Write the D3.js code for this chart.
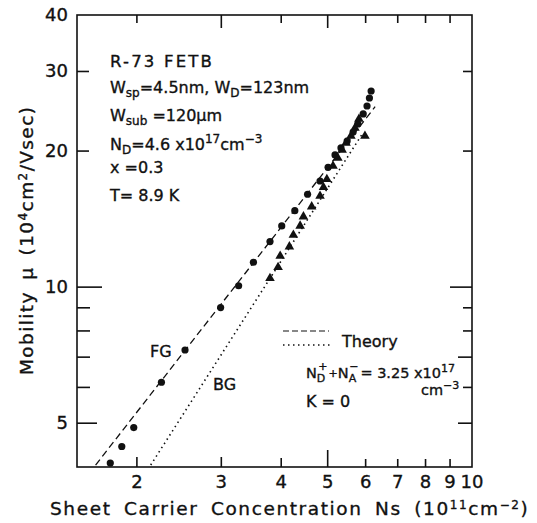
<!DOCTYPE html>
<html>
<head>
<meta charset="utf-8">
<script src="https://cdn.jsdelivr.net/npm/d3@7"></script>
<style>
  body { margin: 0; background: #fff; }
  svg { display: block; }
  text { font-family: "DejaVu Sans", sans-serif; fill: #111; stroke: #111; stroke-width: 0.35px; }
</style>
</head>
<body>
<svg id="chart" width="537" height="523"></svg>
<script>
// FG data (circles) - Ns (1e11 cm^-2), mobility (1e4 cm2/Vs)
var fgNs  = [1.76, 1.86, 1.97, 2.25, 2.52, 2.99, 3.26, 3.50, 3.79, 4.01, 4.27, 4.54, 4.82, 5.01, 5.18, 5.33, 5.49, 5.65, 5.78, 5.93, 6.04, 6.11, 6.16];
var fgMu  = [4.08, 4.44, 4.89, 6.16, 7.26, 9.01, 10.07, 11.35, 12.61, 13.66, 14.76, 16.05, 17.17, 18.41, 19.61, 20.32, 21.05, 22.04, 22.96, 24.16, 25.16, 26.21, 27.16];
// BG data (triangles)
var bgNs  = [3.79, 3.94, 3.98, 4.16, 4.24, 4.38, 4.45, 4.63, 4.82, 4.90, 4.98, 5.13, 5.25, 5.36, 5.46, 5.59, 5.70, 5.81, 5.98];
var bgMu  = [10.46, 11.07, 11.72, 12.29, 13.04, 13.66, 14.32, 15.07, 15.91, 16.63, 17.32, 18.53, 19.31, 20.11, 20.84, 21.60, 22.50, 23.55, 21.60];
// theory lines
var theoryFgNs = [1.64, 6.28];
var theoryFgMu = [4.04, 25.07];
var theoryBgNs = [2.137, 5.9];
var theoryBgMu = [4.04, 21.8];

var xTicks = [2, 3, 4, 5, 6, 7, 8, 9, 10];
var yTicks = [5, 10, 20, 30, 40];
var yMinor = [6, 7, 8, 9];

var svg = d3.select("#chart");
var box = {left: 77, right: 472, top: 15, bottom: 467};

var x = d3.scaleLog().domain([1.5, 10]).range([box.left, box.right]);
var y = d3.scaleLog().domain([4, 40]).range([box.bottom, box.top]);

svg.append("clipPath").attr("id", "clip")
  .append("rect").attr("x", box.left).attr("y", box.top)
  .attr("width", box.right - box.left).attr("height", box.bottom - box.top);

// frame
svg.append("rect")
  .attr("x", box.left).attr("y", box.top)
  .attr("width", box.right - box.left).attr("height", box.bottom - box.top)
  .attr("fill", "none").attr("stroke", "#111").attr("stroke-width", 1.6);

// tick lengths (inward)
var botLen = {2: 10, 3: 10, 4: 9, 5: 17, 6: 8, 7: 8, 8: 8, 9: 8};
var topLen = {2: 8, 3: 13, 4: 8, 5: 13, 6: 8, 7: 8, 8: 8, 9: 8};
var leftLen = {5: 20, 6: 13, 7: 13, 8: 13, 9: 13, 10: 25, 20: 12, 30: 12};
var rightLen = {5: 14, 6: 9, 7: 14, 8: 9, 9: 9, 10: 22, 20: 9, 30: 9};

var ticks = svg.append("g").attr("stroke", "#111").attr("stroke-width", 1.6);
xTicks.filter(function(d) { return d < 10; }).forEach(function(d) {
  ticks.append("line").attr("x1", x(d)).attr("x2", x(d)).attr("y1", box.bottom).attr("y2", box.bottom - botLen[d]);
  ticks.append("line").attr("x1", x(d)).attr("x2", x(d)).attr("y1", box.top).attr("y2", box.top + topLen[d]);
});
yTicks.concat(yMinor).filter(function(d) { return d < 40; }).forEach(function(d) {
  ticks.append("line").attr("y1", y(d)).attr("y2", y(d)).attr("x1", box.left).attr("x2", box.left + leftLen[d]);
  ticks.append("line").attr("y1", y(d)).attr("y2", y(d)).attr("x1", box.right).attr("x2", box.right - rightLen[d]);
});

// tick labels
svg.append("g").selectAll("text").data(xTicks).enter().append("text")
  .attr("x", function(d) { return x(d); })
  .attr("y", 488)
  .attr("text-anchor", "middle")
  .style("font-size", "18px")
  .text(function(d) { return d; });

svg.append("g").selectAll("text").data(yTicks).enter().append("text")
  .attr("x", 68)
  .attr("y", function(d) { return y(d) + 6; })
  .attr("text-anchor", "end")
  .style("font-size", "18px")
  .text(function(d) { return d; });

// axis titles
var xt = svg.append("text").attr("x", 50).attr("y", 515).style("font-size", "18.5px")
  .attr("letter-spacing", "1.6px").attr("word-spacing", "5px");
xt.append("tspan").text("Sheet Carrier Concentration Ns (10");
xt.append("tspan").attr("dy", -6).style("font-size", "12px").text("11");
xt.append("tspan").attr("dy", 6).text("cm");
xt.append("tspan").attr("dy", -6).style("font-size", "12px").text("−2");
xt.append("tspan").attr("dy", 6).text(")");

var yt = svg.append("text").attr("transform", "translate(33,375) rotate(-90)").style("font-size", "18.5px")
  .attr("letter-spacing", "1.4px").attr("word-spacing", "4px");
yt.append("tspan").text("Mobility  μ  (10");
yt.append("tspan").attr("dy", -6).style("font-size", "12px").text("4");
yt.append("tspan").attr("dy", 6).text("cm");
yt.append("tspan").attr("dy", -6).style("font-size", "12px").text("2");
yt.append("tspan").attr("dy", 6).text("/Vsec)");

// theory lines
var line = d3.line().x(function(d) { return x(d[0]); }).y(function(d) { return y(d[1]); });
svg.append("path")
  .datum(d3.zip(theoryFgNs, theoryFgMu))
  .attr("d", line).attr("fill", "none").attr("stroke", "#111")
  .attr("stroke-width", 1.3).attr("stroke-dasharray", "7,4")
  .attr("clip-path", "url(#clip)");
svg.append("path")
  .datum(d3.zip(theoryBgNs, theoryBgMu))
  .attr("d", line).attr("fill", "none").attr("stroke", "#111")
  .attr("stroke-width", 1.6).attr("stroke-dasharray", "1.5,3.5")
  .attr("clip-path", "url(#clip)");

// data points
svg.append("g").selectAll("circle").data(d3.zip(fgNs, fgMu)).enter().append("circle")
  .attr("cx", function(d) { return x(d[0]); })
  .attr("cy", function(d) { return y(d[1]); })
  .attr("r", 3.6).attr("fill", "#111");

var tri = d3.symbol().type(d3.symbolTriangle).size(40);
svg.append("g").selectAll("path").data(d3.zip(bgNs, bgMu)).enter().append("path")
  .attr("d", tri)
  .attr("transform", function(d) { return "translate(" + x(d[0]) + "," + y(d[1]) + ")"; })
  .attr("fill", "#111");

// annotations: parts are [text, baseline shift, dx]
function addText(xp, yp, parts, size, spacing, subSize) {
  var t = svg.append("text").attr("x", xp).attr("y", yp).style("font-size", (size || 16) + "px");
  if (spacing) t.attr("letter-spacing", spacing + "px");
  var shift = 0;
  parts.forEach(function(p) {
    var s = p[1] || 0;
    var ts = t.append("tspan").attr("dy", s - shift).style("font-size", s ? (subSize || 12) + "px" : null).text(p[0]);
    if (p[2]) ts.attr("dx", p[2]);
    shift = s;
  });
  return t;
}
addText(110, 67, [["R-73 FETB"]], 16.5, 2.2);
addText(110, 93, [["W"], ["sp", 4], ["=4.5nm, W"], ["D", 4], ["=123nm"]]);
addText(110, 121, [["W"], ["sub", 4], [" =120μm"]]);
addText(110, 150, [["N"], ["D", 4], ["=4.6 x10"], ["17", -7], ["cm"], ["−3", -7]]);
addText(110, 173, [["x =0.3"]]);
addText(110, 201, [["T=  8.9 K"]]);

// curve labels
addText(150, 357, [["FG"]]);
addText(213, 390, [["BG"]]);

// legend
svg.append("line").attr("x1", 283).attr("x2", 329).attr("y1", 331).attr("y2", 331)
  .attr("stroke", "#111").attr("stroke-width", 1.2).attr("stroke-dasharray", "6,3");
svg.append("line").attr("x1", 283).attr("x2", 330).attr("y1", 345).attr("y2", 345)
  .attr("stroke", "#111").attr("stroke-width", 1.6).attr("stroke-dasharray", "1.5,3.5");
addText(342, 347, [["Theory"]]);
addText(306, 378, [["N"], ["D", 4], ["+", -8, -7], ["+", -1, 1], ["N"], ["A", 4], ["−", -8, -7], ["= 3.25 x10", 0, 2], ["17", -6]], 14.5, 0, 11);
addText(421, 395, [["cm"], ["−3", -6]], 14.5, 0, 11);
addText(306, 407, [["K = 0"]]);
</script>
</body>
</html>
